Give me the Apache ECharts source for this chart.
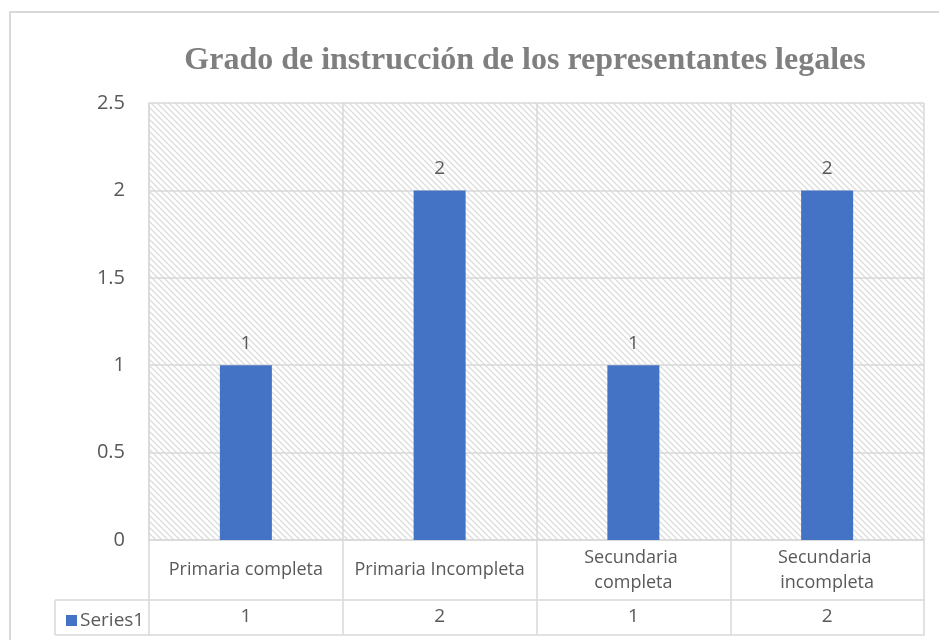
<!DOCTYPE html>
<html>
<head>
<meta charset="utf-8">
<style>html,body{margin:0;padding:0;background:#fff;}#c{width:939px;height:640px;}</style>
<script src="https://cdn.jsdelivr.net/npm/echarts@6/dist/echarts.min.js"></script>
</head>
<body>
<div id="c"></div>
<script>
var titleText = 'Grado de instrucción de los representantes legales';
var categories = ['Primaria completa', 'Primaria Incompleta', 'Secundaria completa', 'Secundaria incompleta'];
var seriesName = 'Series1';
var values = [1, 2, 1, 2];
var yTicks = { min: 0, max: 2.5, interval: 0.5 };

var L = { left: 149, right: 924, top: 103, bottom: 540, catBottom: 600, tableBottom: 635, legendLeft: 55 };
var gridColor = '#d9d9d9';
var textColor = '#595959';
var font = '"Open Sans", sans-serif';

function makePattern() {
  var s = 6;
  var cv = document.createElement('canvas');
  cv.width = s; cv.height = s;
  var ctx = cv.getContext('2d');
  ctx.fillStyle = '#ffffff';
  ctx.fillRect(0, 0, s, s);
  ctx.strokeStyle = '#dcdcdc';
  ctx.lineWidth = 1.3;
  ctx.beginPath();
  ctx.moveTo(-1, -1); ctx.lineTo(s + 1, s + 1);
  ctx.moveTo(-1, s - 1); ctx.lineTo(1, s + 1);
  ctx.moveTo(s - 1, -1); ctx.lineTo(s + 1, 1);
  ctx.stroke();
  return cv;
}

var chart = echarts.init(document.getElementById('c'), null, { renderer: 'canvas' });
var option = {
  animation: false,
  backgroundColor: '#ffffff',
  title: {
    text: titleText,
    left: 520,
    top: 40,
    textAlign: 'center',
    textStyle: { fontFamily: '"Liberation Serif", "Times New Roman", serif', fontWeight: 'bold', fontSize: 32, color: '#7f7f7f' }
  },
  legend: {
    data: [seriesName],
    left: L.legendLeft + 6,
    top: 606,
    icon: 'rect',
    itemWidth: 11,
    itemHeight: 11,
    itemGap: 0,
    textStyle: { fontFamily: font, fontSize: 19, color: textColor, padding: [0, 0, 0, -2] }
  },
  grid: {
    left: L.left, right: 939 - L.right, top: L.top, bottom: 640 - L.bottom,
    show: true,
    borderWidth: 0,
    backgroundColor: { image: makePattern(), repeat: 'repeat' }
  },
  xAxis: [
    {
      type: 'category',
      data: categories,
      position: 'bottom',
      axisLine: { show: true, lineStyle: { color: gridColor, width: 1.5 } },
      axisTick: { show: true, length: L.tableBottom - L.bottom, lineStyle: { color: gridColor, width: 1.5 } },
      splitLine: { show: true, lineStyle: { color: gridColor, width: 1.5 } },
      axisLabel: {
        interval: 0,
        margin: 30,
        verticalAlign: 'middle',
        lineHeight: 25,
        width: 174,
        overflow: 'break',
        fontFamily: font, fontSize: 18, color: textColor
      }
    },
    {
      type: 'category',
      data: values.map(String),
      position: 'bottom',
      offset: L.catBottom - L.bottom,
      axisLine: { show: true, lineStyle: { color: gridColor, width: 1.5 } },
      axisTick: { show: false },
      splitLine: { show: false },
      axisLabel: { interval: 0, margin: 17, verticalAlign: 'middle', fontFamily: font, fontSize: 19, color: textColor }
    },
    {
      type: 'category',
      data: values.map(String),
      position: 'bottom',
      offset: L.tableBottom - L.bottom,
      axisLine: { show: true, lineStyle: { color: gridColor, width: 1.5 } },
      axisTick: { show: false },
      splitLine: { show: false },
      axisLabel: { show: false }
    }
  ],
  yAxis: {
    type: 'value',
    min: yTicks.min, max: yTicks.max, interval: yTicks.interval,
    axisLine: { show: true, lineStyle: { color: gridColor, width: 1.5 } },
    axisTick: { show: false },
    splitLine: { show: true, lineStyle: { color: gridColor, width: 1.5 } },
    axisLabel: { margin: 24, fontFamily: font, fontSize: 20, color: textColor }
  },
  graphic: [
    { type: 'rect', silent: true, z: -10, shape: { x: 10, y: 12, width: 960, height: 660 }, style: { fill: null, stroke: gridColor, lineWidth: 2 } },
    { type: 'line', silent: true, shape: { x1: L.legendLeft, y1: L.catBottom, x2: L.left, y2: L.catBottom }, style: { stroke: gridColor, lineWidth: 1.5 } },
    { type: 'line', silent: true, shape: { x1: L.legendLeft, y1: L.tableBottom, x2: L.left, y2: L.tableBottom }, style: { stroke: gridColor, lineWidth: 1.5 } },
    { type: 'line', silent: true, shape: { x1: L.legendLeft, y1: L.catBottom, x2: L.legendLeft, y2: L.tableBottom }, style: { stroke: gridColor, lineWidth: 1.5 } }
  ],
  series: [{
    name: seriesName,
    type: 'bar',
    data: values,
    barWidth: 52,
    itemStyle: { color: '#4472c4' },
    label: { show: true, position: 'top', distance: 12, fontFamily: font, fontSize: 19, color: textColor }
  }]
};
chart.setOption(option);
</script>
</body>
</html>
